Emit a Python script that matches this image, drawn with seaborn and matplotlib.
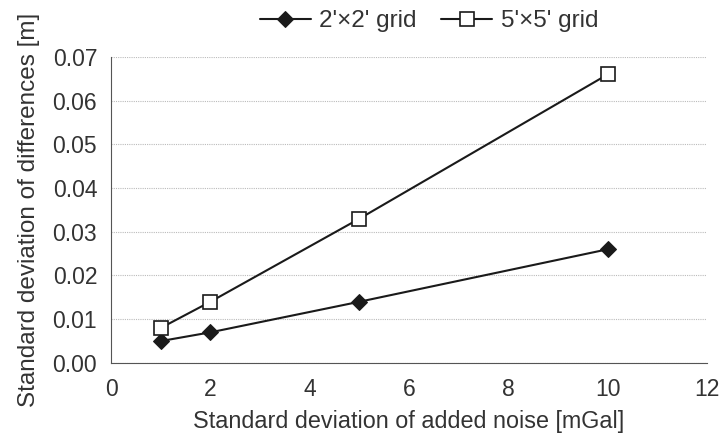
import pandas as pd
import seaborn as sns
import matplotlib.pyplot as plt
import matplotlib.ticker as mticker

# Values
noise_mgal = [1, 2, 5, 10]
grid_2x2 = [0.005, 0.007, 0.014, 0.026]
grid_5x5 = [0.008, 0.014, 0.033, 0.066]
series_names = ["2'\u00d72' grid", "5'\u00d75' grid"]

df = pd.DataFrame({
    'noise': noise_mgal * 2,
    'std_diff': grid_2x2 + grid_5x5,
    'grid': [series_names[0]] * 4 + [series_names[1]] * 4,
})

sns.set_style('white')
plt.rcParams['font.family'] = ['Liberation Sans', 'DejaVu Sans']
text_color = '#333333'
line_color = '#1a1a1a'

fig = plt.figure(figsize=(7.26, 4.41), dpi=100)
ax = fig.add_axes([0.153, 0.177, 0.821, 0.694])

sns.lineplot(
    data=df
    , x='noise'
    , y='std_diff'
    , hue='grid'
    , style='grid'
    , palette={series_names[0]: line_color, series_names[1]: line_color}
    , markers={series_names[0]: 'D', series_names[1]: 's'}
    , dashes=False
    , linewidth=1.5
    , ax=ax
    , legend=True
)

# filled diamonds vs hollow squares
def style_marker(line):
    if line.get_marker() == 's':
        line.set_markerfacecolor('white')
        line.set_markeredgecolor(line_color)
        line.set_markersize(10)
        line.set_markeredgewidth(1.2)
    elif line.get_marker() == 'D':
        line.set_markerfacecolor(line_color)
        line.set_markeredgecolor(line_color)
        line.set_markersize(8)

for line in ax.get_lines():
    style_marker(line)

ax.set_xlim(0, 12)
ax.set_ylim(0, 0.07)
ax.xaxis.set_major_locator(mticker.MultipleLocator(2))
ax.yaxis.set_major_locator(mticker.MultipleLocator(0.01))
ax.yaxis.set_major_formatter(mticker.FormatStrFormatter('%.2f'))

ax.grid(axis='y', color='#bbbbbb', linestyle=(0, (1, 1)), linewidth=0.8)
ax.set_axisbelow(True)
for side in ['top', 'right']:
    ax.spines[side].set_visible(False)
ax.spines['left'].set_color('#555555')
ax.spines['bottom'].set_color('#555555')

ax.tick_params(axis='y', labelsize=16.5, colors=text_color, length=0, pad=10)
ax.tick_params(axis='x', labelsize=16.5, colors=text_color, length=0, pad=11)
ax.set_xlabel('Standard deviation of added noise [mGal]', fontsize=16.8, color=text_color, labelpad=6)
ax.set_ylabel('Standard deviation of differences [m]', fontsize=17.5, color=text_color, labelpad=9)

handles, labels = ax.get_legend_handles_labels()
ax.get_legend().remove()
for h in handles:
    style_marker(h)
fig.legend(
    handles, labels
    , loc='center'
    , bbox_to_anchor=(429 / 726, 1 - 21 / 441)
    , ncol=2
    , frameon=False
    , fontsize=17.5
    , handlelength=2.1
    , columnspacing=1.0
    , handletextpad=0.35
    , labelcolor=text_color
)

fig.savefig('out.png', dpi=100)
